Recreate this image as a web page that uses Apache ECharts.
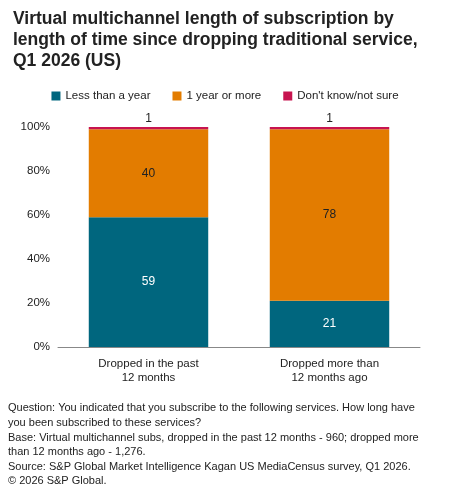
<!DOCTYPE html>
<html><head><meta charset="utf-8">
<script src="https://cdn.jsdelivr.net/npm/echarts@6/dist/echarts.min.js"></script>
<style>html,body{margin:0;padding:0;background:#fff}#c{width:450px;height:495px}</style>
</head><body><div id="c"></div>
<script>
const categories = ['Dropped in the past\n12 months', 'Dropped more than\n12 months ago'];
const lessThanYear = [59, 21];
const yearOrMore = [40, 78];
const dontKnow = [1, 1];
const yTicks = [0, 20, 40, 60, 80, 100];

const chart = echarts.init(document.getElementById('c'));
const F = 'Liberation Sans, Arial, sans-serif';
chart.setOption({
  textStyle: {fontFamily: F},
  title: {
    text: 'Virtual multichannel length of subscription by\nlength of time since dropping traditional service,\nQ1 2026 (US)',
    left: 8, top: 4,
    textStyle: {fontSize: 17.5, fontWeight: 'bold', color: '#222', lineHeight: 21, fontFamily: F}
  },
  legend: {
    top: 85, left: 'center', itemWidth: 9, itemHeight: 9, itemGap: 22, icon: 'rect',
    textStyle: {fontSize: 11.5, color: '#222'}
  },
  grid: {left: 58, right: 30, top: 127, bottom: 148},
  xAxis: {
    type: 'category', data: categories,
    axisLine: {lineStyle: {color: '#888'}}, axisTick: {show: false},
    axisLabel: {fontSize: 11.5, color: '#222', margin: 10, lineHeight: 14}
  },
  yAxis: {
    type: 'value', min: yTicks[0], max: yTicks[yTicks.length - 1], interval: 20,
    axisLabel: {formatter: '{value}%', fontSize: 11.5, color: '#222'},
    splitLine: {show: false}, axisLine: {show: false}, axisTick: {show: false}
  },
  series: [
    {name: 'Less than a year', type: 'bar', stack: 's', data: lessThanYear, barWidth: '66%',
     itemStyle: {color: '#00667e'},
     label: {show: true, color: '#fff', fontSize: 12}},
    {name: '1 year or more', type: 'bar', stack: 's', data: yearOrMore,
     itemStyle: {color: '#e37c00'},
     label: {show: true, color: '#222', fontSize: 12}},
    {name: "Don't know/not sure", type: 'bar', stack: 's', data: dontKnow,
     itemStyle: {color: '#c7144f'},
     label: {show: true, position: 'top', color: '#222', fontSize: 12, distance: 2}}
  ],
  graphic: [{
    type: 'text', left: 8, top: 401,
    style: {
      text: 'Question: You indicated that you subscribe to the following services. How long have\nyou been subscribed to these services?\nBase: Virtual multichannel subs, dropped in the past 12 months - 960; dropped more\nthan 12 months ago - 1,276.\nSource: S&P Global Market Intelligence Kagan US MediaCensus survey, Q1 2026.\n© 2026 S&P Global.',
      fontSize: 11, lineHeight: 14.6, fill: '#222', fontFamily: F
    }
  }]
});
</script></body></html>
